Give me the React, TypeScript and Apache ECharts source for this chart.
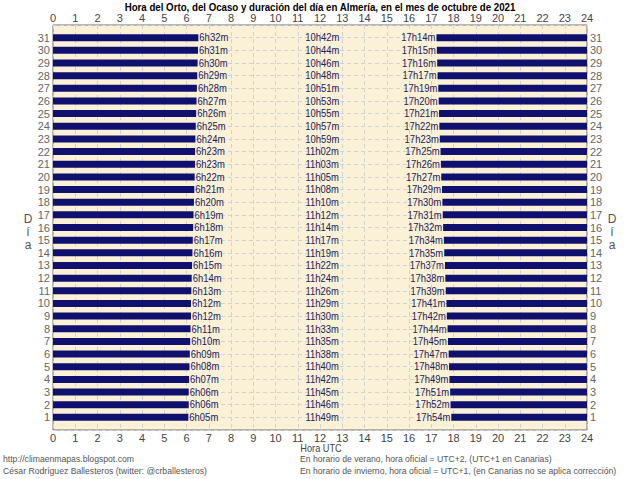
import React, { useEffect, useRef } from "react";
import * as echarts from "echarts";

const days = [1, 2, 3, 4, 5, 6, 7, 8, 9, 10, 11, 12, 13, 14, 15, 16, 17, 18, 19, 20, 21, 22, 23, 24, 25, 26, 27, 28, 29, 30, 31];
const sunrise = ["6h05m", "6h06m", "6h06m", "6h07m", "6h08m", "6h09m", "6h10m", "6h11m", "6h12m", "6h12m", "6h13m", "6h14m", "6h15m", "6h16m", "6h17m", "6h18m", "6h19m", "6h20m", "6h21m", "6h22m", "6h23m", "6h23m", "6h24m", "6h25m", "6h26m", "6h27m", "6h28m", "6h29m", "6h30m", "6h31m", "6h32m"];
const sunset = ["17h54m", "17h52m", "17h51m", "17h49m", "17h48m", "17h47m", "17h45m", "17h44m", "17h42m", "17h41m", "17h39m", "17h38m", "17h37m", "17h35m", "17h34m", "17h32m", "17h31m", "17h30m", "17h29m", "17h27m", "17h26m", "17h25m", "17h23m", "17h22m", "17h21m", "17h20m", "17h19m", "17h17m", "17h16m", "17h15m", "17h14m"];
const duration = ["11h49m", "11h46m", "11h45m", "11h42m", "11h40m", "11h38m", "11h35m", "11h33m", "11h30m", "11h29m", "11h26m", "11h24m", "11h22m", "11h19m", "11h17m", "11h14m", "11h12m", "11h10m", "11h08m", "11h05m", "11h03m", "11h02m", "10h59m", "10h57m", "10h55m", "10h53m", "10h51m", "10h48m", "10h46m", "10h44m", "10h42m"];
const hourTicks = { min: 0, max: 24, interval: 1 };
const dayTicks = { min: 0, max: 32, interval: 1 };

const parseHM = (s: string) => {
  const m = s.match(/(\d+)h(\d+)m/);
  return m ? parseInt(m[1], 10) + parseInt(m[2], 10) / 60 : 0;
};

const FONT = '"Liberation Sans", Arial, sans-serif';
const BAR = "#10106e";
const LABEL = "#23235a";
const SX = 0.86;

export default function App() {
  const ref = useRef<HTMLDivElement>(null);
  useEffect(() => {
    document.body.style.margin = "0";
    if (!ref.current) return;
    const chart = echarts.init(ref.current, undefined, { renderer: "svg" });
    const data = days.map((d, i) => [d, parseHM(sunrise[i]), parseHM(sunset[i])]);
    const gridLine = { show: true, lineStyle: { color: "#d2d2d2", type: [4, 3] as any, width: 1 } };
    const dayFmt = (v: number) => (v >= 1 && v <= 31 ? String(v) : "");
    const foot = `9px ${FONT}`;
    const txt = (x: number, y: number, text: string, opts: any = {}) => ({
      type: "text",
      x,
      y,
      scaleX: opts.scaleX ?? 0.96,
      style: { text, fill: opts.fill ?? "#555", font: opts.font ?? foot, align: opts.align ?? "left", verticalAlign: "middle" },
    });
    const option: any = {
      animation: false,
      backgroundColor: "#ffffff",
      grid: { left: 53, right: 53, top: 25, bottom: 49, show: true, backgroundColor: "#fbf1d6", borderColor: "#6e6e6e", borderWidth: 1 },
      xAxis: [
        {
          type: "value", position: "bottom", ...hourTicks,
          axisLine: { show: false }, axisTick: { show: false },
          axisLabel: { color: "#444", fontFamily: FONT, fontSize: 11, margin: 2 },
          splitLine: gridLine,
        },
        {
          type: "value", position: "top", ...hourTicks,
          axisLine: { show: false }, axisTick: { show: false },
          axisLabel: { color: "#444", fontFamily: FONT, fontSize: 11, margin: 2 },
          splitLine: { show: false },
        },
      ],
      yAxis: [
        {
          type: "value", position: "left", ...dayTicks,
          axisLine: { show: false }, axisTick: { show: false },
          axisLabel: { color: "#666", fontFamily: FONT, fontSize: 11, margin: 3, formatter: dayFmt },
          splitLine: gridLine,
        },
        {
          type: "value", position: "right", ...dayTicks,
          axisLine: { show: false }, axisTick: { show: false },
          axisLabel: { color: "#666", fontFamily: FONT, fontSize: 11, margin: 3, formatter: dayFmt },
          splitLine: { show: false },
        },
      ],
      series: [
        {
          type: "custom",
          xAxisIndex: 0,
          yAxisIndex: 0,
          encode: { x: [1, 2], y: 0 },
          data,
          renderItem: (params: any, api: any) => {
            const day = api.value(0);
            const rise = api.value(1);
            const set = api.value(2);
            const i = params.dataIndex;
            const p0 = api.coord([0, day]);
            const pr = api.coord([rise, day]);
            const ps = api.coord([set, day]);
            const p24 = api.coord([24, day]);
            const pm = api.coord([12.1, day]);
            const h = 7;
            const font = `11px ${FONT}`;
            return {
              type: "group",
              children: [
                { type: "rect", shape: { x: p0[0], y: p0[1] - h / 2, width: pr[0] - p0[0], height: h }, style: { fill: BAR } },
                { type: "rect", shape: { x: ps[0], y: ps[1] - h / 2, width: p24[0] - ps[0], height: h }, style: { fill: BAR } },
                { type: "text", x: pr[0] + 1, y: pr[1], scaleX: SX, style: { text: sunrise[i], fill: LABEL, font, align: "left", verticalAlign: "middle" } },
                { type: "text", x: ps[0] - 1, y: ps[1], scaleX: SX, style: { text: sunset[i], fill: LABEL, font, align: "right", verticalAlign: "middle" } },
                { type: "text", x: pm[0], y: pm[1], scaleX: SX, style: { text: duration[i], fill: LABEL, font, align: "center", verticalAlign: "middle" } },
              ],
            };
          },
        },
      ],
      graphic: [
        txt(320, 7, "Hora del Orto, del Ocaso y duración del día en Almería, en el mes de octubre de 2021", { font: `bold 10px ${FONT}`, fill: "#000", align: "center", scaleX: 0.97 }),
        txt(321, 448, "Hora UTC", { align: "center", fill: "#444", font: `10px ${FONT}`, scaleX: 0.92 }),
        txt(3, 459, "http://climaenmapas.blogspot.com"),
        txt(3, 471, "César Rodríguez Ballesteros (twitter: @crballesteros)"),
        txt(300, 459, "En horario de verano, hora oficial = UTC+2, (UTC+1 en Canarias)"),
        txt(300, 471, "En horario de invierno, hora oficial = UTC+1, (en Canarias no se aplica corrección)"),
        txt(28, 219, "D", { font: `12px ${FONT}`, align: "center", scaleX: 1 }),
        txt(28, 232, "í", { font: `12px ${FONT}`, align: "center", scaleX: 1 }),
        txt(28, 245, "a", { font: `12px ${FONT}`, align: "center", scaleX: 1 }),
        txt(612, 219, "D", { font: `12px ${FONT}`, align: "center", scaleX: 1 }),
        txt(612, 232, "í", { font: `12px ${FONT}`, align: "center", scaleX: 1 }),
        txt(612, 245, "a", { font: `12px ${FONT}`, align: "center", scaleX: 1 }),
      ],
    };
    chart.setOption(option);
    return () => chart.dispose();
  }, []);
  return <div ref={ref} style={{ width: 640, height: 479 }} />;
}
